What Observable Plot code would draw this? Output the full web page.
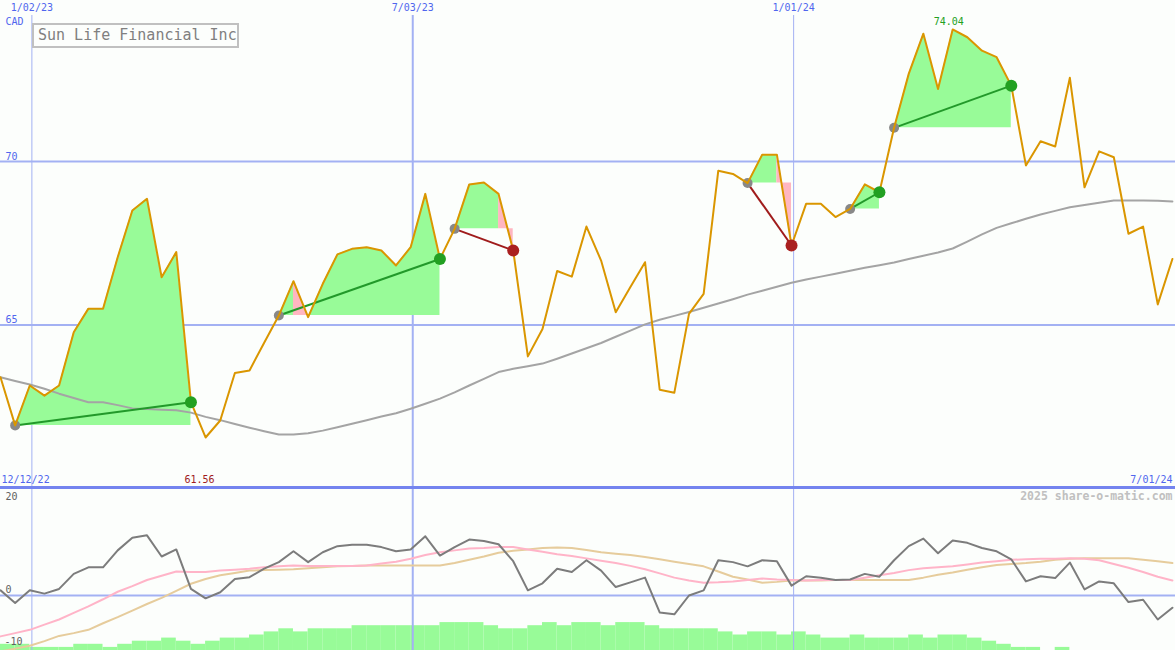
<!DOCTYPE html>
<html><head><meta charset="utf-8">
<script src="https://cdn.jsdelivr.net/npm/d3@7"></script>
<script src="https://cdn.jsdelivr.net/npm/@observablehq/plot@0.6"></script>
<style>
html,body{margin:0;padding:0;background:#fcfefc;}
#chart{position:relative;width:1175px;height:650px;overflow:hidden;background:#fcfefc;}
#chart svg{position:absolute;left:0;}
.title{position:absolute;left:32px;top:23px;width:199px;height:21px;border:2px solid #c0c0c0;color:#808080;font:15px "DejaVu Sans Mono",monospace;line-height:21px;padding-left:4px;background:#fcfefc;white-space:nowrap;}
.sep{position:absolute;left:0;top:486px;width:1175px;height:3px;background:#7484ef;}
</style></head><body><div id="chart"></div>
<script>
// ---- data ----
const firstWeek = "2022-12-18", lastDay = "2024-07-01";
const gridPrices = [65, 70];
const yearLines = ["2023-01-02", "2024-01-01"];
const midLines = ["2023-07-03"];
const topLabels = ["1/02/23", "7/03/23", "1/01/24"];
const startLabel = "12/12/22", endLabel = "7/01/24", currency = "CAD";
const titleText = "Sun Life Financial Inc";
const credit = "2025 share-o-matic.com";
const price = [63.40, 61.93, 63.15, 62.84, 63.15, 64.78, 65.50, 65.50, 67.07, 68.50,
  68.86, 66.46, 67.23, 62.64, 61.56, 62.08, 63.53, 63.61, 64.46, 65.29,
  66.34, 65.24, 66.26, 67.16, 67.33, 67.38, 67.28, 66.82, 67.38, 69.01,
  67.02, 67.94, 69.30, 69.36, 69.01, 67.28, 64.04, 64.88, 66.65, 66.48,
  68.01, 66.97, 65.39, 66.16, 66.92, 63.02, 62.93, 65.34, 65.95, 69.72,
  69.62, 69.34, 70.21, 70.21, 67.43, 68.71, 68.71, 68.30, 68.55, 69.30,
  69.06, 71.03, 72.68, 73.91, 72.22, 74.04, 73.80, 73.39, 73.19, 72.32,
  69.88, 70.62, 70.46, 72.56, 69.21, 70.31, 70.13, 67.79, 68.01, 65.63, 67.02];
const movingAvg = [63.40, 63.29, 63.18, 63.05, 62.90, 62.77, 62.64, 62.64, 62.55, 62.45,
  62.43, 62.41, 62.39, 62.32, 62.19, 62.09, 61.97, 61.86, 61.75, 61.65,
  61.65, 61.69, 61.77, 61.87, 61.98, 62.09, 62.20, 62.30, 62.44, 62.59,
  62.75, 62.94, 63.15, 63.35, 63.56, 63.66, 63.74, 63.82, 63.97, 64.13,
  64.29, 64.45, 64.64, 64.83, 65.02, 65.16, 65.28, 65.40, 65.53, 65.66,
  65.79, 65.93, 66.05, 66.17, 66.29, 66.39, 66.48, 66.57, 66.66, 66.75,
  66.83, 66.91, 67.02, 67.12, 67.22, 67.34, 67.55, 67.77, 67.97, 68.11,
  68.25, 68.38, 68.49, 68.60, 68.67, 68.74, 68.81, 68.81, 68.81, 68.80, 68.78];
const tradeStart = [1, 19, 31, 51, 58, 61];
const tradeEnd = [13, 30, 35, 54, 60, 69];
const oscillator = [1.1, -1.6, 1.1, 0.4, 1.4, 4.6, 6.0, 6.0, 9.6, 12.3,
  12.8, 8.3, 9.8, 1.4, -0.6, 0.7, 3.5, 3.9, 5.7, 7.1,
  9.4, 7.1, 9.2, 10.5, 10.8, 10.8, 10.3, 9.4, 9.8, 12.6,
  8.5, 10.3, 11.9, 11.6, 10.9, 7.3, 1.1, 2.6, 5.7, 5.0,
  7.5, 5.3, 1.8, 2.8, 3.8, -3.6, -4.0, 0.0, 1.1, 7.5,
  7.1, 6.2, 7.5, 7.3, 2.1, 4.1, 3.8, 3.3, 3.4, 4.6,
  4.0, 7.5, 10.5, 12.1, 9.0, 11.7, 11.2, 10.1, 9.4, 7.7,
  3.0, 4.1, 3.7, 7.0, 1.3, 3.0, 2.6, -1.4, -0.9, -5.1, -2.6];
const signalFast = [-8.7, -8.0, -7.3, -6.2, -5.1, -3.7, -2.3, -0.8, 0.8, 2.0,
  3.3, 4.2, 5.1, 5.0, 5.0, 5.3, 5.5, 5.7, 6.0, 6.2,
  6.4, 6.3, 6.3, 6.3, 6.3, 6.4, 6.8, 7.2, 7.8, 8.6,
  9.2, 9.6, 10.0, 10.1, 10.3, 10.3, 9.8, 9.3, 8.8, 8.4,
  7.9, 7.4, 6.9, 6.3, 5.6, 4.7, 3.8, 3.2, 2.7, 2.8,
  3.0, 3.3, 3.6, 3.4, 3.3, 3.2, 3.3, 3.3, 3.3, 3.8,
  4.3, 4.8, 5.4, 5.8, 6.0, 6.2, 6.6, 7.0, 7.3, 7.6,
  7.7, 7.8, 7.8, 7.9, 7.8, 7.5, 6.7, 5.9, 5.0, 4.0, 3.2];
const signalSlow = [-11.9, -11.3, -10.7, -9.7, -8.6, -8.0, -7.3, -5.9, -4.6, -3.2,
  -1.8, -0.5, 1.0, 2.5, 3.5, 4.3, 4.8, 5.3, 5.4, 5.5,
  5.6, 5.8, 6.0, 6.2, 6.3, 6.4, 6.4, 6.4, 6.4, 6.4,
  6.4, 6.9, 7.6, 8.3, 9.1, 9.5, 9.8, 10.1, 10.2, 10.1,
  9.7, 9.2, 8.9, 8.6, 8.2, 7.7, 7.2, 6.7, 6.2, 5.1,
  4.0, 3.4, 2.7, 2.9, 3.2, 3.2, 3.2, 3.3, 3.3, 3.3,
  3.3, 3.3, 3.3, 3.8, 4.4, 4.9, 5.5, 6.0, 6.5, 6.7,
  6.9, 7.2, 7.6, 7.8, 7.9, 7.9, 7.9, 7.9, 7.6, 7.3, 6.9];
const barLevels = [2, 2, 1, 1, 1, 2, 2, 1, 2, 3,
  3, 4, 3, 2, 3, 4, 4, 5, 6, 7,
  6, 7, 7, 7, 8, 8, 8, 8, 8, 8,
  9, 9, 9, 8, 7, 7, 8, 9, 8, 9,
  9, 8, 9, 9, 8, 7, 7, 7, 7, 6,
  5, 6, 6, 5, 6, 5, 4, 4, 5, 4,
  4, 4, 5, 4, 5, 5, 4, 3, 2, 1,
  1, 0, 1, 0, 0, 0, 0, 0, 0, 0, 0];
const oscTicks = [20, 0, -10];

// ---- derived ----
const dates = d3.utcSunday.range(new Date(firstWeek), new Date(lastDay));
const xDomain = [new Date(firstWeek), new Date(lastDay)];
const xScale = {type: "utc", domain: xDomain, range: [0, 1174], axis: null};
const font = "DejaVu Sans Mono, monospace";
const blue = "#5066ee", grid = "#a3b1f3";
const greenFill = "#98fb98", pinkFill = "#ffb6c1";

const fillRows = [];
const trades = tradeStart.map((s, t) => {
  const e = tradeEnd[t], base = price[s];
  let run = 0, prev = null;
  for (let k = s; k < e; k++) {
    const color = price[k + 1] < base ? pinkFill : greenFill;
    if (color !== prev) { run++; prev = color;
      fillRows.push({seg: t + "-" + run, date: dates[k], base, p: price[k], color}); }
    fillRows.push({seg: t + "-" + run, date: dates[k + 1], base, p: price[k + 1], color});
  }
  const win = price[e] >= base;
  return {d1: dates[s], p1: base, d2: dates[e], p2: price[e],
          line: win ? "#22992a" : "#a01c1c", dot: win ? "#22a022" : "#aa2020"};
});
const series = dates.map((d, i) => ({date: d, price: price[i], ma: movingAvg[i],
  osc: oscillator[i], fast: signalFast[i], slow: signalSlow[i],
  bar: barLevels[i], next: d3.utcWeek.offset(d, 1)}));
const lo = d3.minIndex(price), hi = d3.maxIndex(price);

const chart = document.getElementById("chart");

const topPlot = Plot.plot({
  width: 1175, height: 486, margin: 0,
  x: xScale,
  y: {domain: [60.061, 74.924], axis: null},
  color: {type: "identity"},
  style: {background: "transparent", fontFamily: font},
  marks: [
    Plot.ruleY(gridPrices, {stroke: grid, strokeWidth: 2}),
    Plot.ruleX(yearLines.map(d => new Date(d)), {stroke: grid, strokeWidth: 1, insetTop: 15}),
    Plot.ruleX(midLines.map(d => new Date(d)), {stroke: grid, strokeWidth: 2, insetTop: 15}),
    Plot.areaY(fillRows, {x: "date", y1: "base", y2: "p", z: "seg", fill: "color"}),
    Plot.line(series, {x: "date", y: "ma", stroke: "#a4a4a4", strokeWidth: 2}),
    Plot.link(trades, {x1: "d1", y1: "p1", x2: "d2", y2: "p2", stroke: "line", strokeWidth: 2}),
    Plot.dot(trades, {x: "d1", y: "p1", r: 5, fill: "#888888"}),
    Plot.line(series, {x: "date", y: "price", stroke: "#da9600", strokeWidth: 2}),
    Plot.dot(trades, {x: "d2", y: "p2", r: 6, fill: "dot"}),
    Plot.text(topLabels, {x: (d, i) => new Date([yearLines[0], midLines[0], yearLines[1]][i]), text: d => d,
      frameAnchor: "top", lineAnchor: "top", dy: 3, fill: blue, fontSize: 10}),
    Plot.text([currency], {frameAnchor: "top-left", textAnchor: "start", lineAnchor: "top", dx: 5, dy: 17, fill: blue, fontSize: 10}),
    Plot.text(gridPrices, {y: d => d, text: d => String(d), frameAnchor: "left", textAnchor: "start",
      lineAnchor: "bottom", dx: 5, dy: -2, fill: blue, fontSize: 10}),
    Plot.text([startLabel], {frameAnchor: "bottom-left", textAnchor: "start", lineAnchor: "bottom", dx: 1, dy: -4, fill: blue, fontSize: 10}),
    Plot.text([endLabel], {frameAnchor: "bottom-right", textAnchor: "end", lineAnchor: "bottom", dx: -3, dy: -4, fill: blue, fontSize: 10}),
    Plot.text([lo], {x: i => dates[i], text: i => price[i].toFixed(2), frameAnchor: "bottom", lineAnchor: "bottom",
      dx: -6, dy: -4, fill: "#a01c1c", fontSize: 10}),
    Plot.text([hi], {x: i => dates[i], text: i => price[i].toFixed(2), frameAnchor: "top", lineAnchor: "top",
      dx: -4, dy: 17, fill: "#22a022", fontSize: 10})
  ]
});
topPlot.style.top = "0px";
chart.appendChild(topPlot);

const barPlot = Plot.plot({
  width: 1175, height: 164, margin: 0,
  x: xScale,
  y: {domain: [0, 52.9], axis: null},
  style: {background: "transparent"},
  marks: [
    Plot.rectY(series, {x1: "date", x2: "next", y: "bar", fill: greenFill})
  ]
});
barPlot.style.top = "486px";
chart.appendChild(barPlot);

const oscPlot = Plot.plot({
  width: 1175, height: 164, margin: 0,
  x: xScale,
  y: {domain: [-11.70, 23.19], axis: null},
  style: {background: "transparent", fontFamily: font},
  marks: [
    Plot.ruleY([0], {stroke: grid, strokeWidth: 2}),
    Plot.ruleX(yearLines.map(d => new Date(d)), {stroke: grid, strokeWidth: 1}),
    Plot.ruleX(midLines.map(d => new Date(d)), {stroke: grid, strokeWidth: 2}),
    Plot.line(series, {x: "date", y: "slow", stroke: "#e6cc9c", strokeWidth: 2}),
    Plot.line(series, {x: "date", y: "fast", stroke: "#ffb4c8", strokeWidth: 2}),
    Plot.line(series, {x: "date", y: "osc", stroke: "#7c7c7c", strokeWidth: 2}),
    Plot.text(oscTicks.slice(0, 1), {y: d => d, text: d => String(d), frameAnchor: "left", textAnchor: "start",
      lineAnchor: "bottom", dx: 5, dy: -1, fill: "#606060", fontSize: 10}),
    Plot.text(oscTicks.slice(1, 2), {y: d => d, text: d => String(d), frameAnchor: "left", textAnchor: "start",
      lineAnchor: "bottom", dx: 5, dy: -3, fill: "#606060", fontSize: 10}),
    Plot.text(oscTicks.slice(2), {y: d => d, text: d => String(d), frameAnchor: "left", textAnchor: "start",
      lineAnchor: "middle", dx: 4, dy: -1, fill: "#606060", fontSize: 10}),
    Plot.text([credit], {frameAnchor: "top-right", textAnchor: "end", lineAnchor: "top", dx: -3, dy: 5,
      fill: "#c0c0c0", fontSize: 11.5, fontWeight: "bold"})
  ]
});
oscPlot.style.top = "486px";
chart.appendChild(oscPlot);

const sep = document.createElement("div");
sep.className = "sep";
chart.appendChild(sep);

const title = document.createElement("div");
title.className = "title";
title.textContent = titleText;
chart.appendChild(title);
</script></body></html>
